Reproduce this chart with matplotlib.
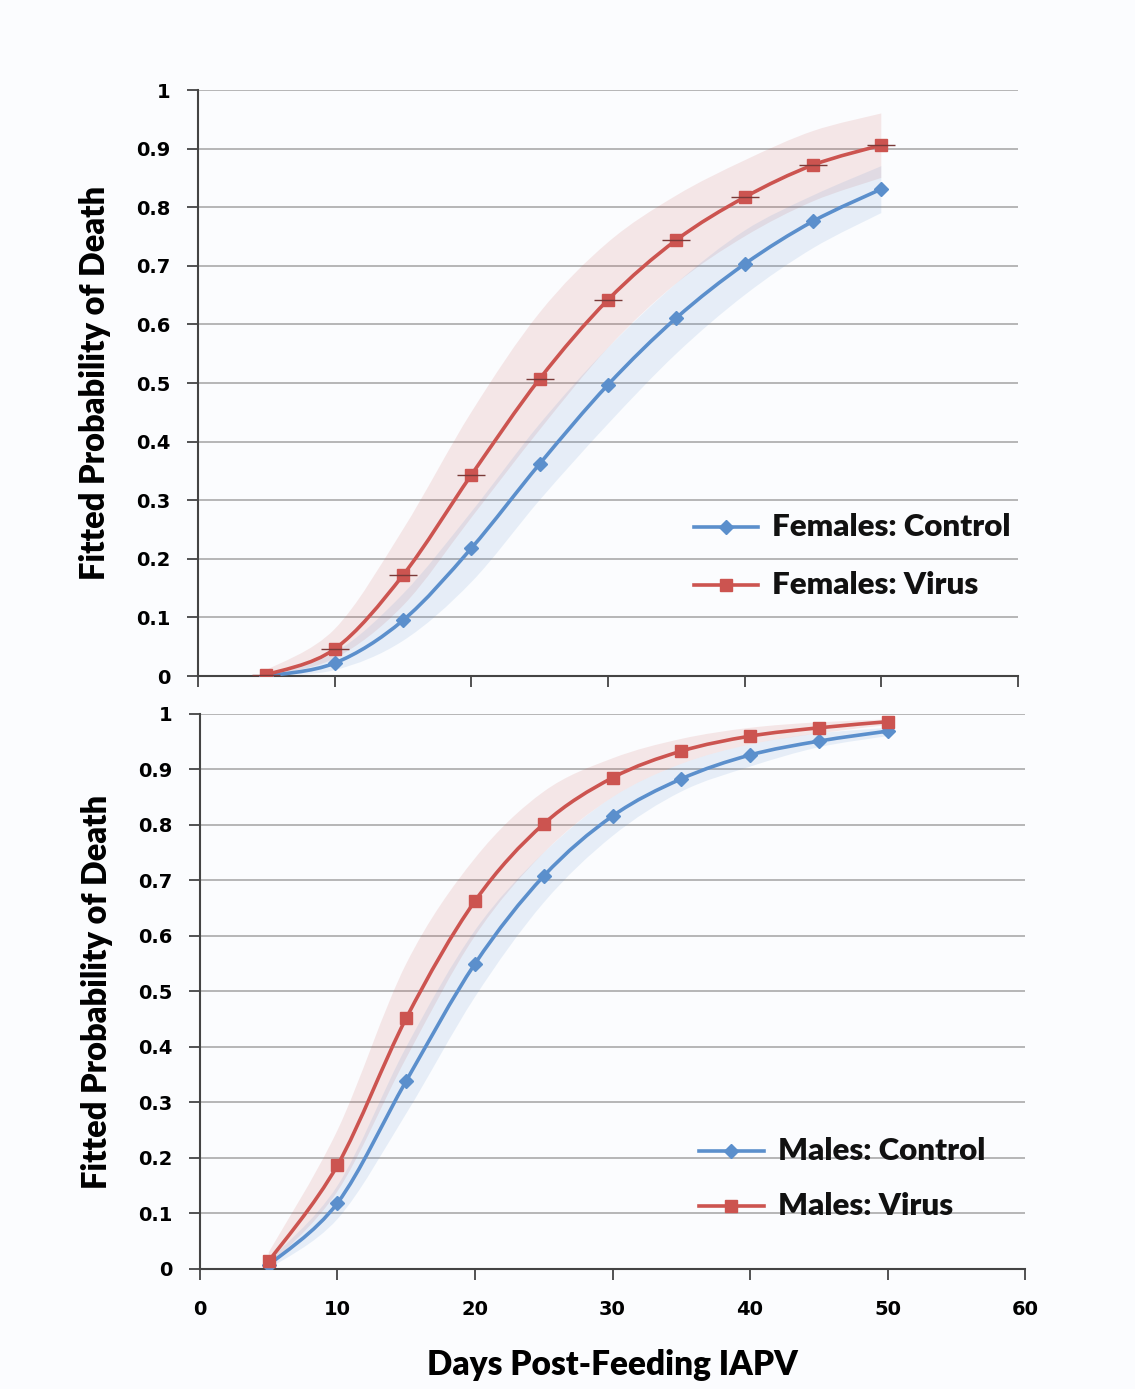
import numpy as np
import matplotlib.pyplot as plt
from matplotlib.path import Path
from matplotlib.patches import PathPatch

days = [5, 10, 15, 20, 25, 30, 35, 40, 45, 50]

# females
f_control = [0.0, 0.022, 0.095, 0.218, 0.362, 0.497, 0.611, 0.703, 0.776, 0.831]
f_virus = [0.002, 0.046, 0.172, 0.343, 0.507, 0.642, 0.744, 0.817, 0.872, 0.906]
f_control_lo = [0.0, 0.01, 0.06, 0.16, 0.30, 0.43, 0.55, 0.65, 0.73, 0.79]
f_control_hi = [0.005, 0.04, 0.14, 0.28, 0.43, 0.56, 0.67, 0.76, 0.82, 0.87]
f_virus_lo = [0.0, 0.03, 0.12, 0.27, 0.42, 0.56, 0.67, 0.75, 0.81, 0.85]
f_virus_hi = [0.01, 0.08, 0.25, 0.45, 0.62, 0.74, 0.82, 0.88, 0.93, 0.96]

# males
m_control = [0.007, 0.119, 0.339, 0.55, 0.708, 0.816, 0.883, 0.926, 0.951, 0.969]
m_virus = [0.014, 0.187, 0.452, 0.663, 0.802, 0.885, 0.933, 0.96, 0.975, 0.986]
m_control_lo = [0.0, 0.09, 0.28, 0.49, 0.66, 0.78, 0.86, 0.905, 0.94, 0.96]
m_control_hi = [0.015, 0.15, 0.40, 0.61, 0.75, 0.85, 0.91, 0.945, 0.965, 0.975]
m_virus_lo = [0.005, 0.14, 0.38, 0.60, 0.75, 0.85, 0.91, 0.945, 0.965, 0.98]
m_virus_hi = [0.03, 0.25, 0.55, 0.74, 0.86, 0.92, 0.955, 0.975, 0.985, 0.99]

y_ticks = [0, 0.1, 0.2, 0.3, 0.4, 0.5, 0.6, 0.7, 0.8, 0.9, 1]
y_labels = ['0', '0.1', '0.2', '0.3', '0.4', '0.5', '0.6', '0.7', '0.8', '0.9', '1']
x_ticks = [0, 10, 20, 30, 40, 50, 60]

BLUE = '#5b8fcc'
RED = '#cc5450'
LABEL_FONT = ['Lato', 'DejaVu Sans']


def smooth_verts(x, y):
    # catmull-rom style bezier control points, like a spreadsheet "smoothed line"
    x = np.asarray(x, float)
    y = np.asarray(y, float)
    verts = [(x[0], y[0])]
    codes = [Path.MOVETO]
    n = len(x)
    for i in range(n - 1):
        x0, y0 = (x[i - 1], y[i - 1]) if i > 0 else (x[i], y[i])
        x3, y3 = (x[i + 2], y[i + 2]) if i + 2 < n else (x[i + 1], y[i + 1])
        c1 = (x[i] + (x[i + 1] - x0) / 6, y[i] + (y[i + 1] - y0) / 6)
        c2 = (x[i + 1] - (x3 - x[i]) / 6, y[i + 1] - (y3 - y[i]) / 6)
        verts += [c1, c2, (x[i + 1], y[i + 1])]
        codes += [Path.CURVE4] * 3
    return verts, codes


def smooth_line(ax, x, y, color, lw=2.6):
    verts, codes = smooth_verts(x, y)
    ax.add_patch(PathPatch(Path(verts, codes), fill=False, ec=color, lw=lw,
                           capstyle='round', joinstyle='round', zorder=3))


def smooth_band(ax, x, lo, hi, color, alpha):
    v1, c1 = smooth_verts(x, hi)
    v2, c2 = smooth_verts(x[::-1], lo[::-1])
    verts = v1 + [v2[0]] + v2[1:] + [v1[0]]
    codes = c1 + [Path.LINETO] + c2[1:] + [Path.CLOSEPOLY]
    ax.add_patch(PathPatch(Path(verts, codes), fc=color, ec='none',
                           alpha=alpha, zorder=1))


def panel(ax, ctrl, vir, c_lo, c_hi, v_lo, v_hi, names, show_x, leg_y, caps):
    smooth_band(ax, days, v_lo, v_hi, RED, 0.13)
    smooth_band(ax, days, c_lo, c_hi, BLUE, 0.13)
    smooth_line(ax, days, ctrl, BLUE)
    smooth_line(ax, days, vir, RED)
    ax.plot(days, ctrl, 'D', color=BLUE, ms=7, mec=BLUE, zorder=4)
    ax.plot(days, vir, 's', color=RED, ms=9, mec=RED, zorder=4)
    if caps:
        ax.plot(days, vir, '_', color='#7a3a38', ms=20, mew=1.0, zorder=5)

    ax.set_xlim(0, 60)
    ax.set_ylim(0, 1)
    ax.set_yticks(y_ticks)
    ax.set_yticklabels(y_labels)
    ax.set_xticks(x_ticks)
    ax.yaxis.grid(True, color='#aaaaaa', lw=1.2)
    ax.set_axisbelow(True)
    for s in ['top', 'right']:
        ax.spines[s].set_visible(False)
    for s in ['left', 'bottom']:
        ax.spines[s].set_color('#444444')
        ax.spines[s].set_linewidth(1.5)
    ax.tick_params(axis='y', direction='out', length=8, width=1.3, color='#444444',
                   labelsize=14, pad=12)
    ax.tick_params(axis='x', direction='out', length=8, width=1.3, color='#444444',
                   labelsize=14, pad=14, labelbottom=show_x)
    for t in ax.get_yticklabels() + ax.get_xticklabels():
        t.set_fontweight('bold')
    ax.set_ylabel('Fitted Probability of Death', fontsize=23.5, fontweight='heavy',
                  family=LABEL_FONT, labelpad=18)
    ax.set_facecolor('#fbfcfe')

    # legend drawn as two rows inside the axes
    for yy, col, mk, ms, name in [(leg_y[0], BLUE, 'D', 7, names[0]),
                                  (leg_y[1], RED, 's', 9, names[1])]:
        ax.plot([36.3, 41.0], [yy, yy], color=col, lw=2.6, zorder=5)
        ax.plot([38.65], [yy], mk, color=col, ms=ms, zorder=6)
        ax.text(42.0, yy, name, fontsize=22.5, fontweight='heavy', family=LABEL_FONT,
                va='center', ha='left', color='#111111', zorder=6)


fig = plt.figure(figsize=(11.35, 13.89), dpi=100)
fig.patch.set_facecolor('#fbfcfe')
ax1 = fig.add_axes([0.1744, 0.5133, 0.7225, 0.4219])
ax2 = fig.add_axes([0.1762, 0.0864, 0.7269, 0.3996])

panel(ax1, f_control, f_virus, f_control_lo, f_control_hi, f_virus_lo, f_virus_hi,
      ['Females: Control', 'Females: Virus'], False, [0.255, 0.155], True)
panel(ax2, m_control, m_virus, m_control_lo, m_control_hi, m_virus_lo, m_virus_hi,
      ['Males: Control', 'Males: Virus'], True, [0.213, 0.113], False)

ax2.set_xlabel('Days Post-Feeding IAPV', fontsize=24, fontweight='heavy',
               family=LABEL_FONT, labelpad=22)

fig.savefig('out.png', dpi=100, facecolor=fig.get_facecolor())
